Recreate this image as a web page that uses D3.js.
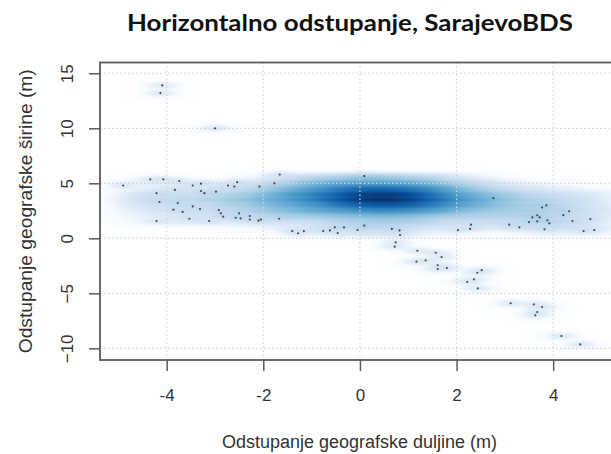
<!DOCTYPE html>
<html>
<head>
<meta charset="utf-8">
<script src="https://cdn.jsdelivr.net/npm/d3@7"></script>
<style>
  body { margin: 0; background: #fff; }
  svg { display: block; }
</style>
</head>
<body>
<svg id="chart" width="611" height="454"></svg>
<script>
// tick values of both axes
var xTicks = [-4, -2, 0, 2, 4];
var yTicks = [-10, -5, 0, 5, 10, 15];

// low density points that are drawn as dots
var ptX = [-4.90, -4.34, -4.07, -3.74, -3.46, -3.29, -2.73, -2.60, -2.54, -2.08, -1.77, -1.66,
           -4.21, -3.83, -3.29, -3.22, -2.98, -4.15, -3.77, -3.86, -3.67, -3.46, -3.31, -2.92,
           -2.88, -2.83, -2.50, -2.57, -2.47, -2.28, -2.28, -2.10, -2.05, -1.67, -4.21, -3.53,
           -3.12, -1.40, -1.28, -1.16, -4.09, -4.13, -3.00,
           0.09, 2.76, 3.77, 3.86, 3.67, 3.72, 3.57, 3.50, 3.67, 3.88, 3.92, 4.21, 4.33, 4.40,
           4.77, 4.63, 4.85, 3.82, 3.09, 3.30, 2.30, 2.28, 2.03, -0.76, -0.62, -0.52, -0.46,
           -0.33, -0.05, 0.09, 0.66, 0.82, 0.83, 0.74, 0.72,
           1.19, 1.57, 1.69, 1.17, 1.36, 1.61, 1.61, 1.80, 2.52, 2.43, 2.36, 2.22, 2.44, 3.12,
           3.60, 3.77, 3.67, 3.63, 4.17, 4.56];
var ptY = [4.80, 5.36, 5.36, 5.20, 4.80, 4.97, 4.80, 4.70, 5.10, 4.70, 5.00, 5.80,
           4.10, 4.40, 4.30, 4.10, 4.24, 3.30, 3.20, 2.60, 2.40, 2.90, 2.66, 2.57,
           2.27, 1.97, 2.27, 1.87, 1.82, 2.03, 1.70, 1.60, 1.70, 1.78, 1.57, 1.78,
           1.57, 0.66, 0.45, 0.66, 13.9, 13.2, 10.0,
           5.66, 3.66, 2.80, 3.00, 2.09, 1.90, 1.90, 1.48, 1.54, 1.64, 1.36, 2.10, 2.45, 1.57,
           1.75, 0.66, 0.75, 0.82, 1.24, 1.00, 1.24, 0.85, 0.75, 0.66, 0.72, 1.00, 0.48,
           1.00, 0.75, 1.15, 0.85, 0.72, 0.30, -0.36, -0.76,
           -1.13, -1.31, -1.70, -2.12, -2.00, -2.45, -2.79, -2.70, -2.90, -3.13, -3.73, -3.97, -4.55, -5.90,
           -6.00, -6.25, -6.70, -7.00, -8.88, -9.64];

// estimated hidden counts of the dense cloud, per 0.5 x 0.5 cell
var cloudX = [-4.5, -4, -3.5, -3, -2.5, -2, -1.5, -1, -0.5, 0, 0.5, 1, 1.5, 2, 2.5, 3, 3.5, 4, 4.5, 5];
var cloudY = [5.5, 5, 4.5, 4, 3.5, 3, 2.5, 2, 1.5, 1, 0.5];
var cloudN = [
  [0, 0, 0, 0, 0, 0.3, 5, 9, 15, 25, 25, 15, 9, 2, 0.3, 0, 0, 0, 0, 0],
  [0.8, 1, 1, 1, 1.5, 4, 15, 37, 68, 78, 78, 68, 37, 15, 5, 1, 0.3, 0.1, 0, 0],
  [0.8, 1.5, 2.5, 3.5, 6, 12, 37, 78, 144, 246, 246, 190, 107, 37, 15, 5, 2.3, 1, 0.3, 0],
  [3, 5, 5, 8, 14, 30, 78, 144, 246, 430, 531, 394, 190, 78, 37, 19, 9, 5, 2.3, 1],
  [5, 8, 8, 14, 22, 45, 78, 144, 271, 489, 600, 430, 246, 107, 55, 25, 15, 9, 5, 1],
  [3, 5, 5, 8, 14, 30, 55, 89, 161, 271, 313, 271, 161, 78, 44, 25, 15, 12.5, 5, 1.4],
  [1.5, 3, 3, 5, 9, 20, 37, 55, 78, 107, 128, 107, 78, 37, 25, 19, 15, 12.5, 6.3, 2.3],
  [0.6, 1.5, 3, 3, 5, 7, 15, 19, 25, 32, 37, 32, 19, 15, 12.5, 12.5, 12.5, 9, 5, 1.4],
  [0.2, 0.8, 1.4, 1.4, 1.4, 3, 3.7, 5, 9, 15, 19, 15, 9, 5, 5, 6.3, 9, 9, 5, 1],
  [0, 0, 0, 0, 0.1, 0.3, 1, 2.3, 5, 9, 9, 5, 2.3, 2.3, 1.4, 2.3, 3.7, 5, 3.7, 1],
  [0, 0, 0, 0, 0, 0, 0, 0.3, 1, 2.3, 3.7, 1.4, 0.3, 0.3, 0, 0, 0.3, 1, 0.6, 0.3]
];

var blues9 = ["#F7FBFF", "#DEEBF7", "#C6DBEF", "#9ECAE1", "#6BAED6", "#4292C6", "#2171B5", "#08519C", "#08306B"];

var plotLeft = 100, plotRight = 616, plotTop = 62.5, plotBottom = 360;

var svg = d3.select("#chart");

var x = d3.scaleLinear().domain([-5.38, 5.3]).range([plotLeft, plotRight]);
var y = d3.scaleLinear().domain([-11.06, 15.98]).range([plotBottom, plotTop]);

// --- density image (like smoothScatter) ---
var W = Math.round(plotRight - plotLeft), H = Math.round(plotBottom - plotTop);
var dens = new Float64Array(W * H);
var pxPerX = x(1) - x(0), pxPerY = y(0) - y(1);

function splat(cx, cy, w, sx, sy) {
  var px = x(cx) - plotLeft, py = y(cy) - plotTop;
  var kx = sx * pxPerX, ky = sy * pxPerY;
  var norm = w / (2 * Math.PI * sx * sy);
  var i0 = Math.max(0, Math.floor(px - 5 * kx)), i1 = Math.min(W - 1, Math.ceil(px + 5 * kx));
  var j0 = Math.max(0, Math.floor(py - 5 * ky)), j1 = Math.min(H - 1, Math.ceil(py + 5 * ky));
  for (var j = j0; j <= j1; j++) {
    var dy = (j + 0.5 - py) / ky;
    for (var i = i0; i <= i1; i++) {
      var dx = (i + 0.5 - px) / kx;
      dens[j * W + i] += norm * Math.exp(-0.5 * (dx * dx + dy * dy));
    }
  }
}

cloudY.forEach(function(cy, r) {
  cloudX.forEach(function(cx, c) {
    if (cloudN[r][c] > 0) splat(cx, cy, cloudN[r][c], 0.3, 0.2);
  });
});
ptX.forEach(function(px, i) { splat(px, ptY[i], 1, 0.16, 0.16); });

var dmax = d3.max(dens);
var ramp = d3.scaleLinear()
  .domain(d3.range(10).map(function(i) { return i / 9; }))
  .range(["#FFFFFF"].concat(blues9))
  .interpolate(d3.interpolateRgb);

var canvas = document.createElement("canvas");
canvas.width = W; canvas.height = H;
var ctx = canvas.getContext("2d");
var img = ctx.createImageData(W, H);
var lut = d3.range(256).map(function(k) { return d3.rgb(ramp(k / 255)); });
for (var k = 0; k < W * H; k++) {
  var t = Math.pow(dens[k] / dmax, 0.25);
  var c = lut[Math.min(255, Math.round(t * 255))];
  img.data[4 * k] = c.r; img.data[4 * k + 1] = c.g; img.data[4 * k + 2] = c.b; img.data[4 * k + 3] = 255;
}
ctx.putImageData(img, 0, 0);

svg.append("clipPath").attr("id", "plotclip")
  .append("rect").attr("x", plotLeft).attr("y", plotTop)
  .attr("width", plotRight - plotLeft).attr("height", plotBottom - plotTop);

var plot = svg.append("g").attr("clip-path", "url(#plotclip)");

plot.append("image")
  .attr("x", plotLeft).attr("y", plotTop)
  .attr("width", W).attr("height", H)
  .attr("preserveAspectRatio", "none")
  .attr("href", canvas.toDataURL());

// dotted grid
plot.selectAll(".gx").data(xTicks).enter().append("line")
  .attr("x1", function(d) { return x(d); }).attr("x2", function(d) { return x(d); })
  .attr("y1", plotTop).attr("y2", plotBottom)
  .attr("stroke", "#d3d3d3").attr("stroke-width", 1.2).attr("stroke-dasharray", "1.5,2.5");
plot.selectAll(".gy").data(yTicks).enter().append("line")
  .attr("x1", plotLeft).attr("x2", plotRight)
  .attr("y1", function(d) { return y(d); }).attr("y2", function(d) { return y(d); })
  .attr("stroke", "#d3d3d3").attr("stroke-width", 1.2).attr("stroke-dasharray", "1.5,2.5");

// low density points
plot.selectAll(".pt").data(ptX).enter().append("circle")
  .attr("cx", function(d) { return x(d); })
  .attr("cy", function(d, i) { return y(ptY[i]); })
  .attr("r", 1.1)
  .attr("fill", "#222").attr("opacity", 0.8);

// box
svg.append("rect")
  .attr("x", plotLeft).attr("y", plotTop)
  .attr("width", plotRight - plotLeft).attr("height", plotBottom - plotTop)
  .attr("fill", "none").attr("stroke", "#5a5a5a").attr("stroke-width", 1.8);

// axes
var xAxis = svg.append("g")
  .attr("transform", "translate(0," + plotBottom + ")")
  .call(d3.axisBottom(x).tickValues(xTicks).tickSize(11).tickPadding(18).tickSizeOuter(0));
var yAxis = svg.append("g")
  .attr("transform", "translate(" + plotLeft + ",0)")
  .call(d3.axisLeft(y).tickValues(yTicks).tickSize(11).tickSizeOuter(0));

[xAxis, yAxis].forEach(function(a) {
  a.select(".domain").remove();
  a.selectAll(".tick line").attr("stroke", "#5a5a5a").attr("stroke-width", 1.5);
  a.selectAll("text")
    .attr("fill", "#333")
    .style("font-family", "'Liberation Sans', Arial, sans-serif")
    .style("font-size", "17px");
});
xAxis.selectAll("text").text(function(d) { return d; });
yAxis.selectAll("text")
  .attr("x", null).attr("dy", null)
  .attr("text-anchor", "middle")
  .attr("transform", "translate(-27,0) rotate(-90)");

// titles
svg.append("text")
  .attr("x", 350).attr("y", 31)
  .attr("text-anchor", "middle")
  .attr("textLength", 446).attr("lengthAdjust", "spacingAndGlyphs")
  .style("font-family", "Lato, 'Open Sans', sans-serif")
  .style("font-weight", "700")
  .style("font-size", "22px")
  .attr("fill", "#111")
  .text("Horizontalno odstupanje, SarajevoBDS");

svg.append("text")
  .attr("x", 359.5).attr("y", 448)
  .attr("text-anchor", "middle")
  .attr("textLength", 275).attr("lengthAdjust", "spacingAndGlyphs")
  .style("font-family", "'Liberation Sans', Arial, sans-serif")
  .style("font-size", "18px")
  .attr("fill", "#333")
  .text("Odstupanje geografske duljine (m)");

svg.append("text")
  .attr("transform", "translate(32," + ((plotTop + plotBottom) / 2) + ") rotate(-90)")
  .attr("text-anchor", "middle")
  .attr("textLength", 284).attr("lengthAdjust", "spacingAndGlyphs")
  .style("font-family", "'Liberation Sans', Arial, sans-serif")
  .style("font-size", "18px")
  .attr("fill", "#333")
  .text("Odstupanje geografske širine (m)");
</script>
</body>
</html>
